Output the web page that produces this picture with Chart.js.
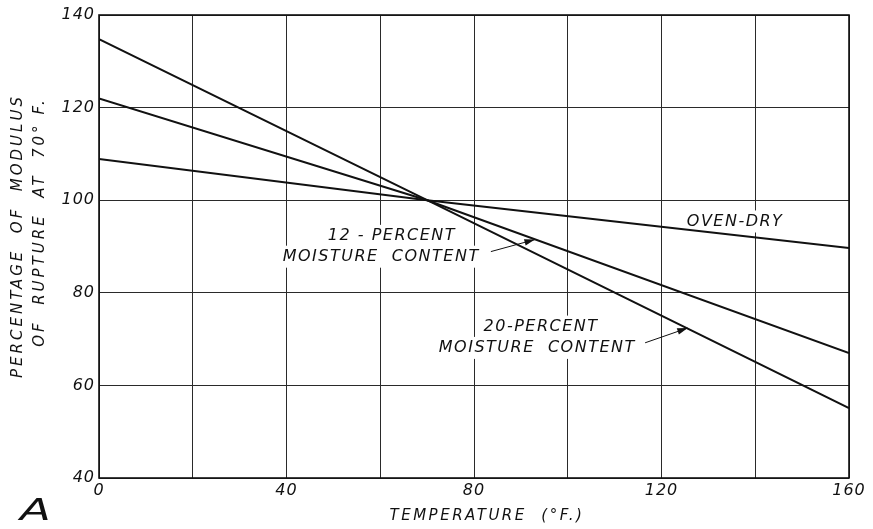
<!DOCTYPE html>
<html>
<head>
<meta charset="utf-8">
<script src="https://cdn.jsdelivr.net/npm/chart.js@4"></script>
<style>
  html, body { margin: 0; padding: 0; background: #fff; overflow: hidden; }
  #wrap { width: 873px; height: 529px; }
  canvas { display: block; }
</style>
</head>
<body>
<div id="wrap"><canvas id="chart" width="873" height="529"></canvas></div>
<script>
// temperature (deg F) and percentage of modulus of rupture at 70 F
const temps = [0, 70, 160];
const ovenDry = [108.9, 100, 89.7];
const moist12 = [122.0, 100, 67.0];
const moist20 = [134.8, 100, 55.1];
const xTicks = [0, 40, 80, 120, 160];

// labels placed in data units: [text, x, y]
const notes = [
    ['OVEN-DRY', 135.7, 95.4],
    ['12 - PERCENT', 62.5, 92.3],
    ['MOISTURE  CONTENT', 60.2, 87.8],
    ['20-PERCENT', 94.3, 72.7],
    ['MOISTURE  CONTENT', 93.5, 68.1]
];
// arrows: [fromX, fromY, toX, toY] in data units
const arrows = [
    [83.6, 88.9, 93.0, 91.5],
    [116.5, 69.2, 125.6, 72.4]
];

const xTitle = 'TEMPERATURE  (°F.)';
const yTitle = ['PERCENTAGE  OF  MODULUS', 'OF  RUPTURE  AT  70° F.'];

const FONT = 'DejaVu Sans';
const NOTE_FONT = 'italic 16px "' + FONT + '"';

function pts(vals) {
    return temps.map((t, i) => ({ x: t, y: vals[i] }));
}

const notesPlugin = {
    id: 'notes',
    beforeDraw(chart) {
        chart.ctx.letterSpacing = '1px';
    },
    beforeDatasetsDraw(chart) {
        // blank the grid behind the lettering, lines still go over it
        const ctx = chart.ctx;
        const xs = chart.scales.x, ys = chart.scales.y;
        ctx.save();
        ctx.font = NOTE_FONT;
        ctx.letterSpacing = '1.5px';
        ctx.fillStyle = '#fff';
        notes.forEach(n => {
            const px = xs.getPixelForValue(n[1]);
            const py = ys.getPixelForValue(n[2]);
            const w = ctx.measureText(n[0]).width;
            ctx.fillRect(px - w / 2 - 4, py - 11, w + 8, 22);
        });
        ctx.restore();
    },
    afterDatasetsDraw(chart) {
        const ctx = chart.ctx;
        const xs = chart.scales.x, ys = chart.scales.y;
        const ca = chart.chartArea;
        ctx.save();
        ctx.font = NOTE_FONT;
        ctx.letterSpacing = '1.5px';
        ctx.textAlign = 'center';
        ctx.textBaseline = 'middle';
        ctx.fillStyle = '#111';
        notes.forEach(n => {
            ctx.fillText(n[0], xs.getPixelForValue(n[1]), ys.getPixelForValue(n[2]));
        });
        ctx.strokeStyle = '#111';
        ctx.lineWidth = 1;
        arrows.forEach(a => {
            const x1 = xs.getPixelForValue(a[0]), y1 = ys.getPixelForValue(a[1]);
            const x2 = xs.getPixelForValue(a[2]), y2 = ys.getPixelForValue(a[3]);
            ctx.beginPath();
            ctx.moveTo(x1, y1);
            ctx.lineTo(x2, y2);
            ctx.stroke();
            const ang = Math.atan2(y2 - y1, x2 - x1);
            ctx.beginPath();
            ctx.moveTo(x2, y2);
            ctx.lineTo(x2 - 11 * Math.cos(ang - 0.3), y2 - 11 * Math.sin(ang - 0.3));
            ctx.lineTo(x2 - 11 * Math.cos(ang + 0.3), y2 - 11 * Math.sin(ang + 0.3));
            ctx.closePath();
            ctx.fill();
        });

        // axis titles
        ctx.font = 'italic 15px "' + FONT + '"';
        ctx.letterSpacing = '2.5px';
        ctx.fillText(xTitle, 487, 516);
        ctx.save();
        ctx.letterSpacing = '3px';
        ctx.translate(18, 236);
        ctx.rotate(-Math.PI / 2);
        ctx.fillText(yTitle[0], 0, 0);
        ctx.restore();
        ctx.save();
        ctx.letterSpacing = '3px';
        ctx.translate(40, 222);
        ctx.rotate(-Math.PI / 2);
        ctx.fillText(yTitle[1], 0, 0);
        ctx.restore();

        // panel letter
        ctx.save();
        ctx.letterSpacing = '0px';
        ctx.font = 'italic 30px "' + FONT + '"';
        ctx.textAlign = 'left';
        ctx.textBaseline = 'alphabetic';
        ctx.translate(20, 520);
        ctx.scale(1.5, 1);
        ctx.fillText('A', 0, 0);
        ctx.restore();

        // frame
        ctx.lineWidth = 1.6;
        ctx.strokeRect(ca.left, ca.top, ca.right - ca.left, ca.bottom - ca.top);
        ctx.restore();
    }
};

new Chart(document.getElementById('chart').getContext('2d'), {
    type: 'line',
    data: {
        datasets: [
            { label: 'Oven-dry', data: pts(ovenDry) },
            { label: '12-percent moisture content', data: pts(moist12) },
            { label: '20-percent moisture content', data: pts(moist20) }
        ].map(d => Object.assign(d, {
            borderColor: '#111',
            borderWidth: 2,
            pointRadius: 0,
            fill: false,
            tension: 0
        }))
    },
    options: {
        responsive: false,
        animation: false,
        events: [],
        layout: { padding: { top: 15, right: 24, left: 0, bottom: 0 } },
        plugins: { legend: { display: false }, tooltip: { enabled: false } },
        scales: {
            x: {
                type: 'linear',
                min: 0,
                max: 160,
                afterBuildTicks: s => { s.ticks = [0, 20, 40, 60, 80, 100, 120, 140, 160].map(v => ({ value: v })); },
                afterFit: s => { s.height = 51; },
                grid: { color: '#2a2a2a', lineWidth: 1, drawTicks: false },
                border: { display: false },
                ticks: {
                    color: '#111',
                    font: { family: FONT, style: 'italic', size: 16 },
                    padding: 3,
                    maxRotation: 0,
                    autoSkip: false,
                    callback: v => xTicks.includes(v) ? String(v) : ''
                }
            },
            y: {
                min: 40,
                max: 140,
                afterFit: s => { s.width = 99; },
                grid: { color: '#2a2a2a', lineWidth: 1, drawTicks: false },
                border: { display: false },
                ticks: {
                    stepSize: 20,
                    color: '#111',
                    font: { family: FONT, style: 'italic', size: 16 },
                    padding: 4
                }
            }
        }
    },
    plugins: [notesPlugin]
});
</script>
</body>
</html>
